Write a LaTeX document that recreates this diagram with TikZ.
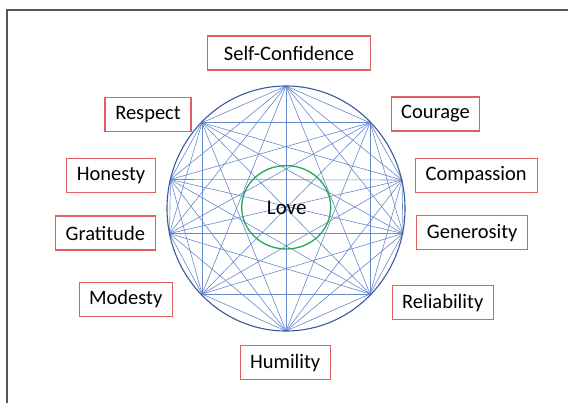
\documentclass[tikz,border=0pt]{standalone}
\usepackage{fontspec}
\setmainfont{Carlito}
\definecolor{chordblue}{HTML}{6688CC}
\definecolor{ringblue}{HTML}{3B5A9A}
\definecolor{lovegreen}{HTML}{22A85A}
\definecolor{boxred}{HTML}{E06060}
\definecolor{framegray}{HTML}{555555}
\tikzset{
  virtue/.style={draw=boxred, line width=1.1pt, minimum height=34pt, inner sep=0pt,
    font=\fontsize{20.5}{24}\selectfont},
  chord/.style={draw=chordblue, line width=0.6pt},
}
\begin{document}
\begin{tikzpicture}[x=1pt, y=-1pt]
            \useasboundingbox (0,0) rectangle (568,403);
            
            % Drawing the frame
            \draw [framegray, line width=1.6pt] (7,403) -- (7,10) -- (568,10);%
            
            % Marking points on the ring
            \coordinate (v0) at (286.0,86.0);%
            \coordinate (v1) at (370.0,122.7);%
            \coordinate (v2) at (402.0,180.0);%
            \coordinate (v3) at (403.0,233.5);%
            \coordinate (v4) at (370.0,294.0);%
            \coordinate (v5) at (286.0,331.0);%
            \coordinate (v6) at (202.0,294.0);%
            \coordinate (v7) at (169.5,233.5);%
            \coordinate (v8) at (170.5,179.5);%
            \coordinate (v9) at (202.0,122.7);%
            
            % Drawing chords between all points
            \foreach \i in {0,...,8} {
              \pgfmathtruncatemacro\k{\i+1}
              \foreach \j in {\k,...,9}
                \draw [chord] (v\i) -- (v\j);%
            }
            
            % Drawing the ring
            \draw [ringblue, line width=1.1pt] (286,208.5) ellipse [x radius=119pt, y radius=122.5pt];%
            
            % Drawing the inner circle
            \draw [lovegreen, line width=1.3pt] (286.2,207.3) ellipse [x radius=44.5pt, y radius=41.7pt];%
            \node (love) at (286.7,208) {\fontsize{21}{24}\selectfont Love};%
            
            % Marking the virtues
            \node [virtue, minimum width=163pt] (selfconf) at (289.0,53.0) {Self-Confidence};%
            \node [virtue, minimum width=86pt] (respect) at (148.0,114.5) {Respect};%
            \node [virtue, minimum width=88pt] (courage) at (435.5,114.0) {Courage};%
            \node [virtue, minimum width=89pt] (honesty) at (111.0,175.3) {Honesty};%
            \node [virtue, minimum width=122pt] (compassion) at (476.2,175.3) {Compassion};%
            \node [virtue, minimum width=100pt] (gratitude) at (105.3,233.0) {Gratitude};%
            \node [virtue, minimum width=111pt] (generosity) at (472.2,232.8) {Generosity};%
            \node [virtue, minimum width=93pt] (modesty) at (125.7,299.2) {Modesty};%
            \node [virtue, minimum width=101pt] (reliability) at (442.7,302.8) {Reliability};%
            \node [virtue, minimum width=90pt] (humility) at (285.2,362.8) {Humility};%
\end{tikzpicture}
\end{document}
